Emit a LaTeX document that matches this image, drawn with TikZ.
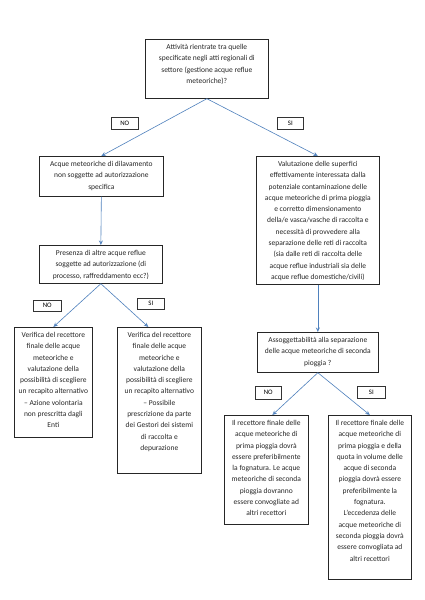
\documentclass[tikz,border=0pt]{standalone}
\usepackage{fontspec}
\setmainfont{Carlito}
\usetikzlibrary{arrows.meta}
\definecolor{arr}{RGB}{79,129,189}
\tikzset{
  boxframe/.style={draw=black!85, line width=0.7pt, inner sep=0pt, minimum width=#1, anchor=north west},
  boxtext/.style={anchor=north, inner sep=0pt, align=center, font=\fontsize{7.5}{11.3}\selectfont, text=black!85},
  lab/.style={draw=black!80, line width=0.6pt, inner sep=0pt, anchor=north west, font=\fontsize{6.8}{8}\selectfont},
  conn/.style={draw=arr, line width=0.6pt, -{Stealth[length=4.5pt,width=4pt,open]}}
}
\newcommand{\mybox}[6]{%
  \node[boxframe={#4-#2}, minimum height={#5-#3}] (#1) at (#2,#3) {};
  \node[boxtext] (#1t) at ([yshift=-5pt]#1.north) {#6};
}
\newcommand{\mylab}[6]{%
  \node[lab, minimum width={#4-#2}, minimum height={#5-#3}] (#1) at (#2,#3) {#6};
}
\begin{document}
\begin{tikzpicture}[x=1pt,y=-1pt]
\useasboundingbox[fill=white] (0,0) rectangle (424,600);
\mybox{A}{145}{39}{268}{98}{Attività rientrate tra quelle\\specificate negli atti regionali di\\settore (gestione acque reflue\\meteoriche)?}
\mybox{B}{39}{156}{163}{196}{Acque meteoriche di dilavamento\\non soggette ad autorizzazione\\specifica}
\mybox{C}{256}{156}{379}{284}{Valutazione delle superfici\\effettivamente interessata dalla\\potenziale contaminazione delle\\acque meteoriche di prima pioggia\\e corretto dimensionamento\\della/e vasca/vasche di raccolta e\\necessità di provvedere alla\\separazione delle reti di raccolta\\(sia dalle reti di raccolta delle\\acque reflue industriali sia delle\\acque reflue domestiche/civili)}
\mybox{D}{39}{245}{162}{283}{Presenza di altre acque reflue\\soggette ad autorizzazione (di\\processo, raffreddamento ecc?)}
\mybox{E}{14}{327}{92}{437}{Verifica del recettore\\finale delle acque\\meteoriche e\\valutazione della\\possibilità di scegliere\\un recapito alternativo\\– Azione volontaria\\non prescritta dagli\\Enti}
\mybox{F}{117}{327}{201}{473}{Verifica del recettore\\finale delle acque\\meteoriche e\\valutazione della\\possibilità di scegliere\\un recapito alternativo\\– Possibile\\prescrizione da parte\\dei Gestori dei sistemi\\di raccolta e\\depurazione}
\mybox{G}{257}{332}{378}{372}{Assoggettabilità alla separazione\\delle acque meteoriche di seconda\\pioggia ?}
\mybox{H}{224}{415}{308}{524}{Il recettore finale delle\\acque meteoriche di\\prima pioggia dovrà\\essere preferibilmente\\la fognatura. Le acque\\meteoriche di seconda\\pioggia dovranno\\essere convogliate ad\\altri recettori}
\mybox{I}{328}{415}{411}{579}{Il recettore finale delle\\acque meteoriche di\\prima pioggia e della\\quota in volume delle\\acque di seconda\\pioggia dovrà essere\\preferibilmente la\\fognatura.\\L’eccedenza delle\\acque meteoriche di\\seconda pioggia dovrà\\essere convogliata ad\\altri recettori}
\mylab{no1}{111}{117}{138}{129}{NO}
\mylab{si1}{277}{117}{303}{129}{SI}
\mylab{no2}{33}{300}{61}{311}{NO}
\mylab{si2}{137}{298}{164}{309}{SI}
\mylab{no3}{255}{386}{281}{399}{NO}
\mylab{si3}{357}{386}{385}{398}{SI}
\draw[conn] (A.south) -- (B.north);
\draw[conn] (A.south) -- (C.north);
\draw[conn] (B.south) -- (D.north);
\draw[conn] (C.south) -- (G.north);
\draw[conn] (D.south) -- (E.north);
\draw[conn] (D.south) -- ([xshift=-11pt]F.north);
\draw[conn] (G.south) -- ([xshift=6pt]H.north);
\draw[conn] (G.south) -- (I.north);
\end{tikzpicture}
\end{document}
